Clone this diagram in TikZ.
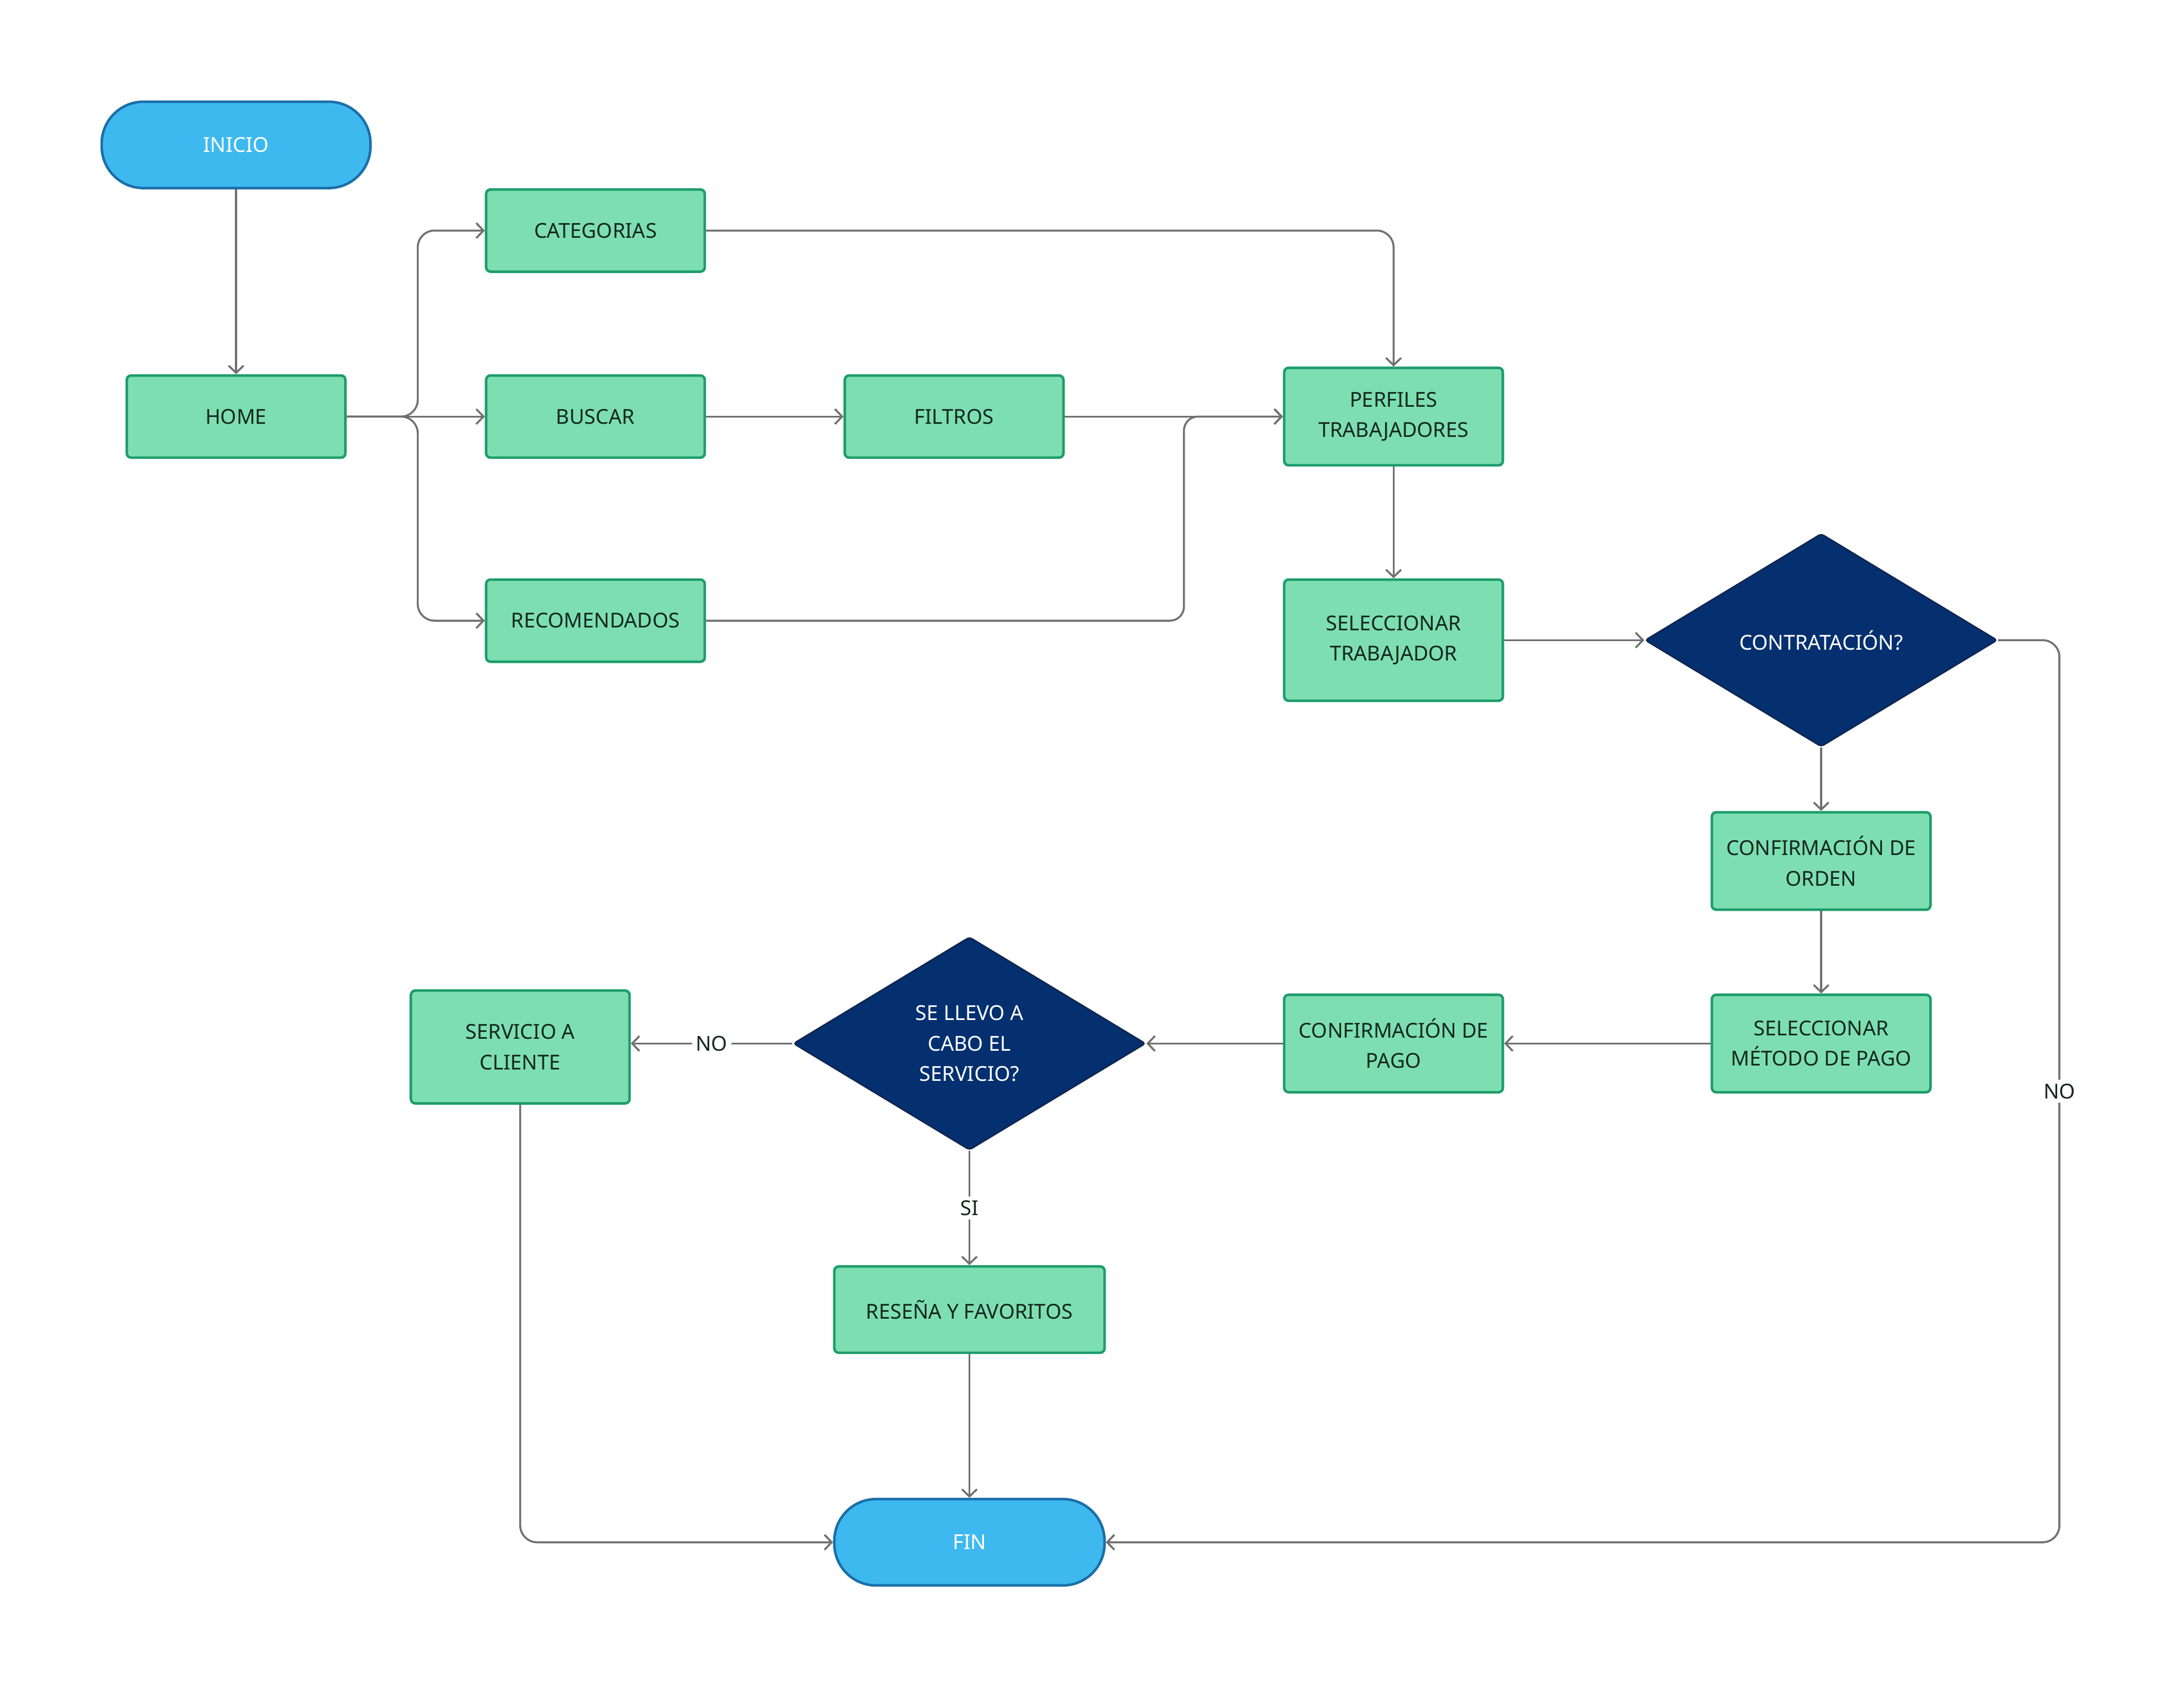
\documentclass[tikz,border=0pt]{standalone}
\usepackage{fontspec}
\setmainfont{Noto Sans}
\usetikzlibrary{shapes.geometric,arrows.meta}
\definecolor{gfill}{HTML}{7DDFB1}
\definecolor{gdraw}{HTML}{1E9C6C}
\definecolor{bfill}{HTML}{3EB9EF}
\definecolor{bdraw}{HTML}{1A6FA8}
\definecolor{dfill}{HTML}{05306F}
\definecolor{ddraw}{HTML}{10244F}
\definecolor{lgray}{HTML}{707070}
\definecolor{txt}{HTML}{14271E}
\begin{document}
\begin{tikzpicture}[x=0.5mm,y=-0.5mm,
 txtfont/.style={font=\fontsize{21}{31}\selectfont},
 box/.style={draw=gdraw,fill=gfill,line width=2.6pt,rounded corners=1.6mm,minimum width=78.5mm,minimum height=29.5mm,align=center,text=txt,txtfont,inner sep=0pt},
 pill/.style={draw=bdraw,fill=bfill,line width=2.6pt,rounded corners=15mm,minimum height=31mm,align=center,text=white,txtfont,inner sep=0pt},
 dia/.style={diamond,draw=ddraw,fill=dfill,line width=1.5pt,rounded corners=1mm,minimum width=126.5mm,minimum height=76.5mm,aspect=1.65,inner sep=0pt,text=white,align=center,txtfont},
 conn/.style={draw=lgray,line width=2pt,-{Straight Barb[length=2.6mm,width=5.4mm]},rounded corners=6mm},
 lbl/.style={fill=white,text=txt,font=\fontsize{21}{25}\selectfont,inner sep=4pt}
]
\useasboundingbox (0,0) rectangle (1568,1212);

\node[pill,minimum width=96.5mm] (inicio) at (169.5,104) {INICIO};
\node[box] (home) at (169.5,299) {HOME};
\node[box] (cat) at (427.5,165.5) {CATEGORIAS};
\node[box] (bus) at (427.5,299) {BUSCAR};
\node[box] (rec) at (427.5,445.5) {RECOMENDADOS};
\node[box] (fil) at (685,299) {FILTROS};
\node[box,minimum height=35mm] (perf) at (1000.5,299) {PERFILES\\TRABAJADORES};
\node[box,minimum height=43.5mm] (sel) at (1000.5,459.5) {SELECCIONAR\\TRABAJADOR};
\node[dia] (d1) at (1307.5,459.5) {CONTRATACIÓN?};
\node[box,minimum height=35mm] (ord) at (1307.5,618) {CONFIRMACIÓN DE\\ORDEN};
\node[box,minimum height=35mm] (met) at (1307.5,749) {SELECCIONAR\\MÉTODO DE PAGO};
\node[box,minimum height=35mm] (pago) at (1000.5,749) {CONFIRMACIÓN DE\\PAGO};
\node[dia] (d2) at (696,749) {SE LLEVO A\\CABO EL\\SERVICIO?};
\node[box,minimum height=40.5mm] (serv) at (373.5,751.5) {SERVICIO A\\CLIENTE};
\node[box,minimum width=97mm,minimum height=31mm] (res) at (696,940) {RESEÑA Y FAVORITOS};
\node[pill,minimum width=97mm] (fin) at (696,1107) {FIN};

\coordinate (j) at (850,299);

\draw[conn] (inicio) -- (home);
\draw[conn] (home.east) -- ++(51,0) |- (cat.west);
\draw[conn] (home.east) -- (bus.west);
\draw[conn] (home.east) -- ++(51,0) |- (rec.west);
\draw[conn] (cat.east) -| (perf.north);
\draw[conn] (bus) -- (fil);
\draw[conn] (fil.east) -- (perf.west);
\draw[conn,rounded corners=5mm] (rec.east) -| (j) -- (perf.west);
\draw[conn] (perf) -- (sel);
\draw[conn] (sel.east) -- (d1.west);
\draw[conn] (d1.east) -- ++(44,0) |- node[lbl,pos=0.25]{NO} (fin.east);
\draw[conn] (d1.south) -- (ord.north);
\draw[conn] (ord) -- (met);
\draw[conn] (met) -- (pago);
\draw[conn] (pago.west) -- (d2.east);
\draw[conn] (d2.west) -- node[lbl]{NO} (d2.west -| serv.east);
\draw[conn] (d2.south) -- node[lbl]{SI} (res.north);
\draw[conn] (res) -- (fin);
\draw[conn] (serv.south) |- (fin.west);
\end{tikzpicture}
\end{document}
